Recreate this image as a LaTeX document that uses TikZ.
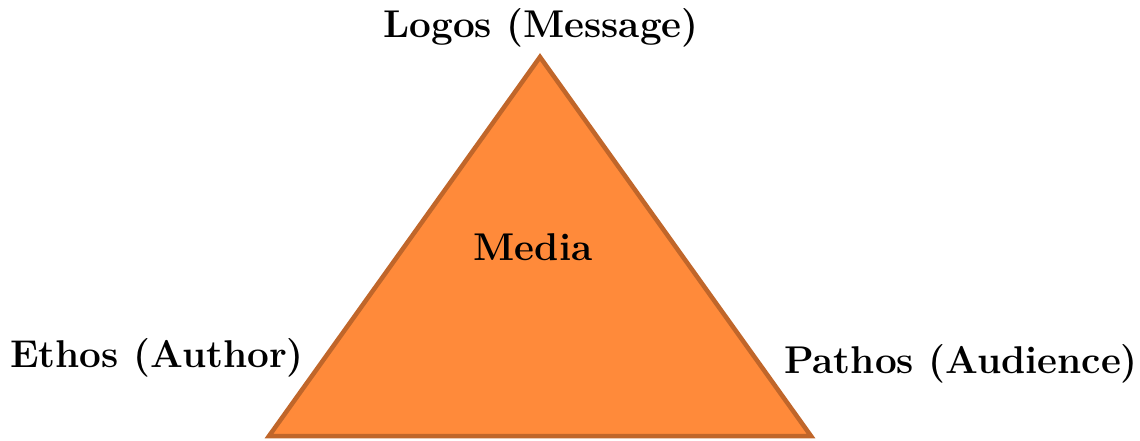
\documentclass[tikz,border=0pt]{standalone}
\definecolor{triFill}{HTML}{FF8A3A}
\definecolor{triEdge}{HTML}{C0662A}
\begin{document}
\begin{tikzpicture}[x=1pt,y=-1pt,
  lbl/.style={font=\fontsize{38.7}{45}\selectfont\bfseries, inner sep=0pt, anchor=base},
  tri/.style={fill=triFill, draw=triEdge, line width=4.5pt, line join=miter}]
\useasboundingbox (0,0) rectangle (1140,440);
% the rhetorical triangle
\coordinate (top) at (540,57);
\coordinate (left) at (269,436);
\coordinate (right) at (811,436);
\filldraw[tri] (top) -- (right) -- (left) -- cycle;
% corner and centre labels
\node[lbl] (logos) at (541,37) {Logos (Message)};
\node[lbl] (ethos) at (157,367) {Ethos (Author)};
\node[lbl] (pathos) at (961,373) {Pathos (Audience)};
\node[lbl] (media) at (533,260) {Media};
\end{tikzpicture}
\end{document}
